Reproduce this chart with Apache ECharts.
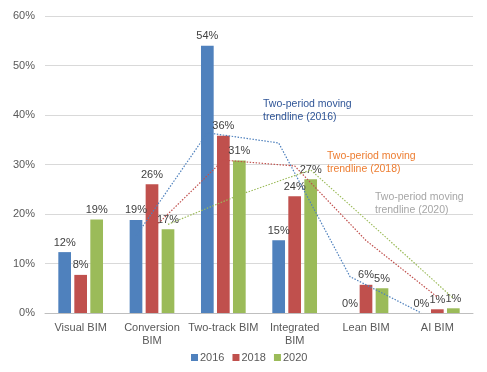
<!DOCTYPE html>
<html>
<head>
<meta charset="utf-8">
<script src="https://cdn.jsdelivr.net/npm/echarts@6/dist/echarts.min.js"></script>
<style>
html,body{margin:0;padding:0;background:#fff;}
#c{width:487px;height:372px;}
</style>
</head>
<body>
<div id="c"></div>
<script>
const categories = ['Visual BIM', 'Conversion\nBIM', 'Two-track BIM', 'Integrated\nBIM', 'Lean BIM', 'AI BIM'];
const seriesNames = ['2016', '2018', '2020'];
const values2016 = [12.3, 18.8, 54.0, 14.7, 0, 0];
const values2018 = [7.7, 26.0, 35.8, 23.6, 5.7, 0.75];
const values2020 = [18.9, 16.9, 30.8, 27.0, 5.0, 0.95];
const yTicks = [0, 10, 20, 30, 40, 50, 60];
const trendLabels = ['Two-period moving\ntrendline (2016)', 'Two-period moving\ntrendline (2018)', 'Two-period moving\ntrendline (2020)'];

const colors = ['#4F81BD', '#C0504D', '#9BBB59'];
const trendTextColors = ['#2F5597', '#ED7D31', '#A6A6A6'];
const FONT = 'Liberation Sans, Arial, sans-serif';

const allValues = [values2016, values2018, values2020];
const barW = 0.178, gapRatio = 0.26;
const groupW = 3 * barW + 2 * gapRatio * barW;

function movingAvg(arr, i) {
  // two-period moving average: points from second category onwards, at the series' bar centre
  const out = [];
  const off = -groupW / 2 + barW / 2 + i * (barW + gapRatio * barW);
  for (let k = 1; k < arr.length; k++) {
    out.push([k + 0.5 + off, (arr[k - 1] + arr[k]) / 2]);
  }
  return out;
}

const series = [];
allValues.forEach((vals, i) => {
  series.push({
    name: seriesNames[i], type: 'bar', xAxisIndex: 0,
    data: vals, barWidth: (barW * 100) + '%', barGap: (gapRatio * 100) + '%',
    itemStyle: { color: colors[i] },
    label: { show: true, position: 'top', distance: 4, color: '#404040', fontSize: 11, fontFamily: FONT,
      formatter: p => Math.round(p.value) + '%' },
    z: 2
  });
});
allValues.forEach((vals, i) => {
  series.push({
    name: 'trend' + seriesNames[i], type: 'line', xAxisIndex: 1,
    data: movingAvg(vals, i), symbol: 'none', silent: true,
    lineStyle: { color: colors[i], width: 1.2, type: [1.5, 1.5] },
    z: 5
  });
});

const graphics = [
  { left: 263, top: 97, c: 0 },
  { left: 327, top: 149, c: 1 },
  { left: 375, top: 190, c: 2 }
].map(g => ({
  type: 'text', left: g.left, top: g.top, z: 10,
  style: { text: trendLabels[g.c], fill: trendTextColors[g.c], font: '10.5px ' + FONT, lineHeight: 13.5 }
}));

const chart = echarts.init(document.getElementById('c'), null, { renderer: 'canvas' });
chart.setOption({
  animation: false,
  backgroundColor: '#fff',
  grid: { left: 45, right: 14, top: 16, bottom: 59 },
  legend: {
    data: seriesNames, top: 352, left: 191, icon: 'rect', itemWidth: 7, itemHeight: 7, itemGap: 8,
    padding: 0,
    textStyle: { color: '#595959', fontSize: 11, fontFamily: FONT, padding: [0, 0, 0, -3] }
  },
  xAxis: [
    { type: 'category', data: categories,
      axisLine: { lineStyle: { color: '#BFBFBF' } }, axisTick: { show: false },
      axisLabel: { color: '#595959', fontSize: 11, fontFamily: FONT, margin: 8, lineHeight: 13, interval: 0 } },
    { type: 'value', min: 0, max: 6, show: false }
  ],
  yAxis: {
    type: 'value', min: yTicks[0], max: yTicks[yTicks.length - 1], interval: 10,
    axisLine: { show: false }, axisTick: { show: false },
    splitLine: { lineStyle: { color: '#D9D9D9' } },
    axisLabel: { color: '#595959', fontSize: 11, fontFamily: FONT, margin: 10, formatter: '{value}%' }
  },
  series: series,
  graphic: graphics
});
</script>
</body>
</html>
